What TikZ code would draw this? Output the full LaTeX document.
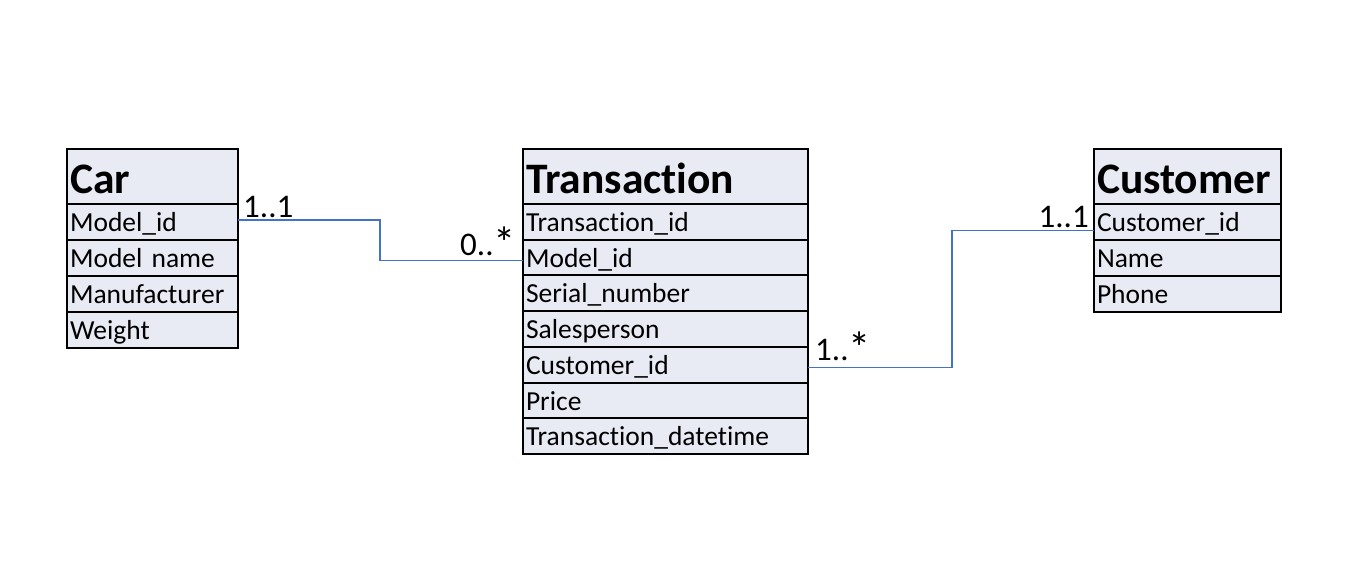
\documentclass[tikz,border=0pt]{standalone}
\usepackage{fontspec}
\setmainfont{Carlito}[Ligatures={NoCommon,NoContextual}]
\usetikzlibrary{calc}
\definecolor{boxfill}{HTML}{E8EAF4}
\definecolor{connblue}{HTML}{4472C4}
\newcommand{\bigast}{\raisebox{-3pt}{\scalebox{1.35}{*}}}
\tikzset{
  cell/.style={draw=black, line width=2pt, fill=boxfill, anchor=north west,
    inner xsep=3pt, inner ysep=0pt, align=left, outer sep=0pt},
  hdr/.style={cell, minimum height=55pt, text height=44pt, text depth=11pt,
    font=\fontsize{43.5}{43.5}\selectfont\bfseries},
  attr/.style={cell, minimum height=#1, text height=27.5pt, text depth=8.5pt,
    font=\fontsize{27.5}{27.5}\selectfont},
  attr/.default=36pt,
  conn/.style={draw=connblue, line width=1.3pt},
  mult/.style={inner sep=0pt, font=\fontsize{33}{33}\selectfont}
}
\begin{document}
\begin{tikzpicture}[x=1pt,y=-1pt]
\useasboundingbox (0,0) rectangle (1354,584);
% Car
\node[hdr, text width=165pt, minimum width=171pt] (carh) at (67,149) {Car};
\node[attr, text width=165pt, minimum width=171pt] (car1) at (67,204) {Model\_id};
\node[attr, text width=165pt, minimum width=171pt] (car2) at (67,240) {Model name};
\node[attr, text width=165pt, minimum width=171pt] (car3) at (67,276) {Manufacturer};
\node[attr, text width=165pt, minimum width=171pt] (car4) at (67,312) {Weight};
% Transaction
\node[hdr, text width=279pt, minimum width=285pt] (trh) at (523,149) {Transaction};
\node[attr=35.7pt, text width=279pt, minimum width=285pt] (tr1) at (523,204) {Transaction\_id};
\node[attr=35.7pt, text width=279pt, minimum width=285pt] (tr2) at (523,239.7) {Model\_id};
\node[attr=35.7pt, text width=279pt, minimum width=285pt] (tr3) at (523,275.4) {Serial\_number};
\node[attr=35.7pt, text width=279pt, minimum width=285pt] (tr4) at (523,311.1) {Salesperson};
\node[attr=35.7pt, text width=279pt, minimum width=285pt] (tr5) at (523,346.8) {Customer\_id};
\node[attr=35.7pt, text width=279pt, minimum width=285pt] (tr6) at (523,382.5) {Price};
\node[attr=35.7pt, text width=279pt, minimum width=285pt] (tr7) at (523,418.2) {Transaction\_datetime};
% Customer
\node[hdr, text width=181pt, minimum width=187pt] (cuh) at (1094,149) {Customer};
\node[attr, text width=181pt, minimum width=187pt] (cu1) at (1094,204) {Customer\_id};
\node[attr, text width=181pt, minimum width=187pt] (cu2) at (1094,240) {Name};
\node[attr, text width=181pt, minimum width=187pt] (cu3) at (1094,276) {Phone};
% connectors
\draw[conn] ([yshift=2pt]car1.east) -- ++(142,0) |- ([yshift=-3pt]tr2.west);
\draw[conn] ([yshift=-3pt]tr5.east) -- ++(144,0) |- ([yshift=-8.5pt]cu1.west);
% multiplicities
\node[mult, anchor=base west] (m1) at (243,217) {1..1};
\node[mult, anchor=base east] (m2) at (516,255) {0..\bigast};
\node[mult, anchor=base west] (m3) at (815,360) {1..\bigast};
\node[mult, anchor=base east] (m4) at (1089,227) {1..1};
\end{tikzpicture}
\end{document}
